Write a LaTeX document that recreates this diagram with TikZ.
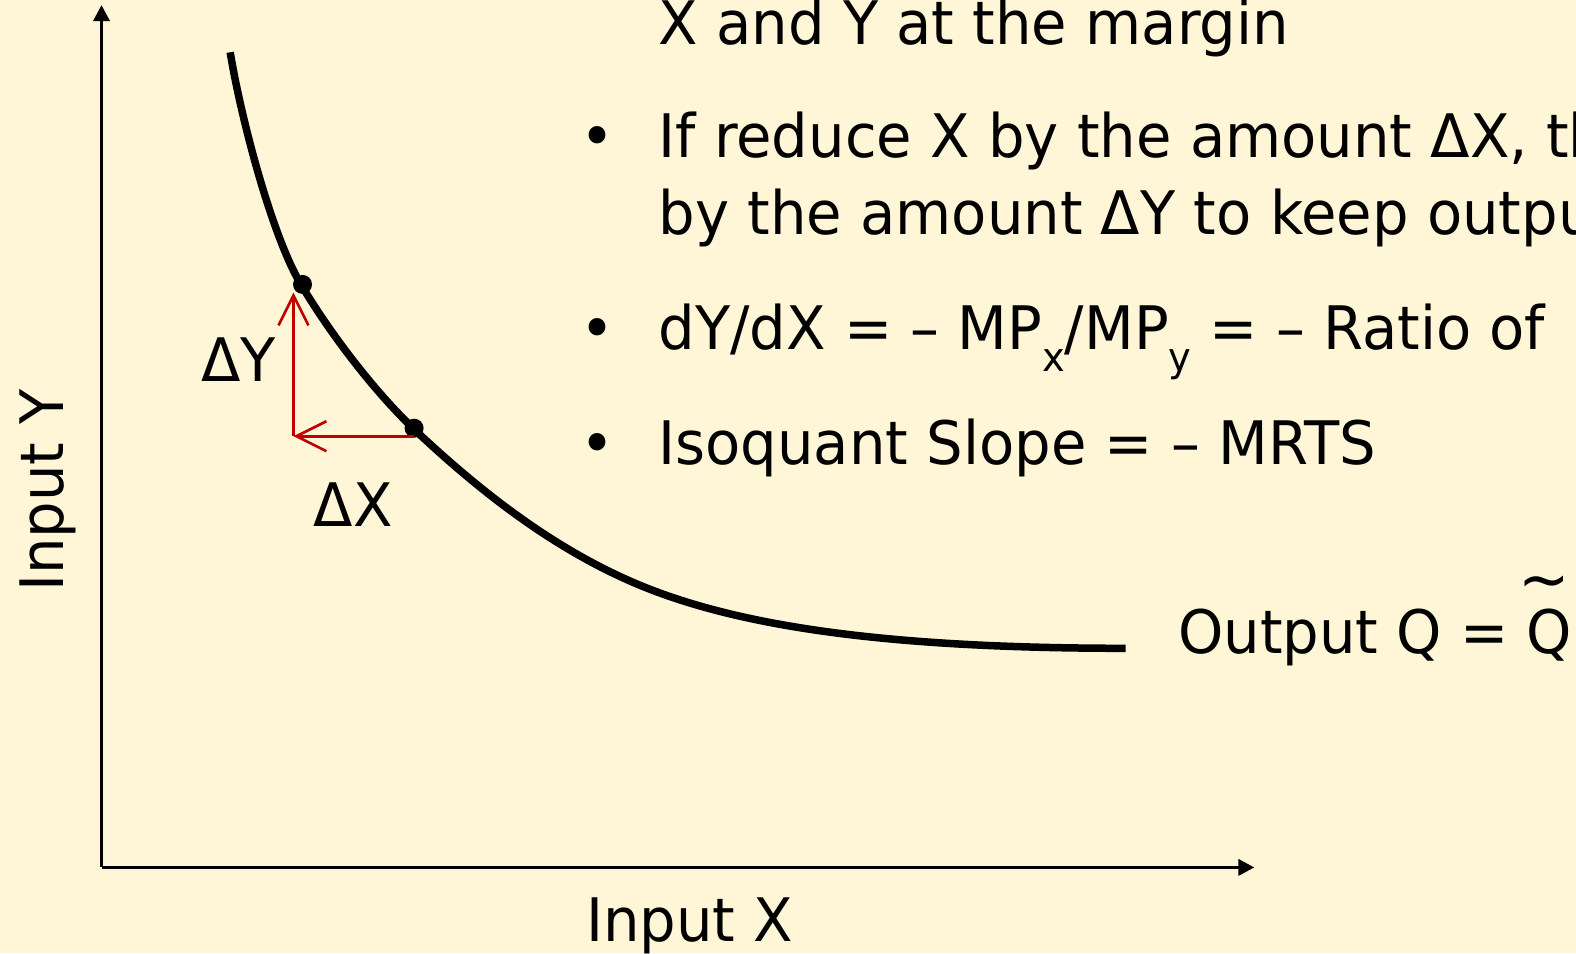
\documentclass[tikz,border=0pt]{standalone}
\usepackage{fontspec}
\setmainfont[FakeStretch=0.96]{DejaVu Sans}
\usetikzlibrary{arrows.meta}
\definecolor{bg}{RGB}{255,246,216}
\definecolor{dred}{RGB}{192,0,0}
\newcommand{\sbx}[1]{\raisebox{-0.36em}{\fontsize{40}{40}\selectfont #1}}
\begin{document}
\begin{tikzpicture}[x=1.005pt,y=-1.005pt,
  txt/.style={inner sep=0pt,anchor=base west,font=\fontsize{60}{72}\selectfont},
  bul/.style={inner sep=0pt,anchor=base,font=\fontsize{60}{72}\selectfont},
  axis/.style={line width=3.5pt,-{Triangle[length=16pt,width=16pt]}},
  redarr/.style={dred,line width=2.6pt,-{Straight Barb[length=30pt,width=30pt]}},
  dot/.style={circle,fill=black,inner sep=0pt,minimum size=19pt}]
\useasboundingbox (0,0) rectangle (1568,948.2);
\fill[bg] (0,0) rectangle (1568,948.2);
\clip (0,0) rectangle (1568,948.2);
% axes
\coordinate (O) at (101,863);
\coordinate (ytop) at (101,5);
\coordinate (xend) at (1248,863);
\draw[axis] (O) -- (ytop);
\draw[axis] (O) -- (xend);
% isoquant
\coordinate (P0) at (229,52);
\coordinate (P3) at (1120,645);
\draw[line width=7.5pt] (P0) .. controls (241,124) and (272,238) .. (300,284)
  .. controls (330,334) and (373,390) .. (413,428)
  .. controls (483,494) and (550,543) .. (620,575)
  .. controls (720,621) and (870,645) .. (P3);
\node[dot] (A) at (301,283) {};
\node[dot] (B) at (412,426) {};
\coordinate (Bs) at (412,434);
\coordinate (C) at (292,434);
\coordinate (Ctop) at (292,291);
\draw[redarr] (Bs) -- (C);
\draw[redarr] (C) -- (Ctop);
\node[txt] (dY) at (200,380) {ΔY};
\node[txt] (dX) at (312,524) {ΔX};
\node[inner sep=0pt,anchor=base,rotate=90,font=\fontsize{60}{72}\selectfont] (iy) at (63,488) {Input Y};
\node[inner sep=0pt,anchor=base,font=\fontsize{60}{72}\selectfont] (ix) at (686,937) {Input X};
\node[txt] (out) at (1172,650) {Output Q = Q};
\node[inner sep=0pt,anchor=north,font=\fontsize{64}{64}\selectfont] (tl) at (1536,573) {\char"007E};
% bullets
\node[txt] (l0) at (655,44) {X and Y at the margin};
\node[bul] (b1) at (594,157) {•};
\node[txt] (l1) at (655,157) {If reduce X by the amount ΔX, th};
\node[txt] (l2) at (655,233) {by the amount ΔY to keep outpu};
\node[bul] (b2) at (594,348) {•};
\node[txt] (l3) at (655,348) {dY/dX = – MP\sbx{x}/MP\sbx{y} = – Ratio of};
\node[bul] (b3) at (594,462) {•};
\node[txt] (l4) at (655,462) {Isoquant Slope = – MRTS};
\end{tikzpicture}
\end{document}
